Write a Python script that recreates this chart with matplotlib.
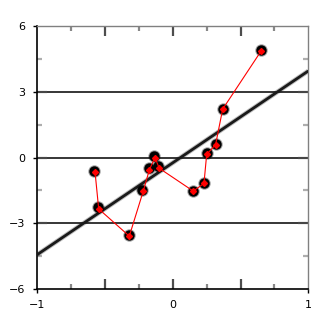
import matplotlib
matplotlib.use("Agg")
import matplotlib.pyplot as plt
import matplotlib.transforms as mtransforms
import numpy as np

# data
x_vals = [-0.574, -0.547, -0.321, -0.218, -0.173, -0.132, -0.100, 0.151, 0.230, 0.250, 0.316, 0.368, 0.653]
y_vals = [-0.65, -2.34, -3.58, -1.53, -0.56, 0.00, -0.49, -1.53, -1.18, 0.14, 0.59, 2.20, 4.86]
shadow_x = [-0.579, -0.555, -0.321, -0.225, -0.173, -0.137, -0.107, 0.149, 0.230, 0.250, 0.316, 0.368, 0.651]
shadow_y = [-0.61, -2.26, -3.55, -1.46, -0.49, 0.06, -0.39, -1.53, -1.18, 0.21, 0.61, 2.19, 4.89]
trend_slope = 4.18
trend_intercept = -0.24
x_ticks = [-1, 0, 1]
y_ticks = [-6, -3, 0, 3, 6]
grid_y = [-3, 0, 3]
inner_x_major = [-0.5, 0, 0.5]
inner_x_minor = [-0.75, -0.25, 0.25, 0.75]
inner_y_major = [-3, 0, 3]
inner_y_minor = [-4.5, -1.5, 1.5, 4.5]

W, H = 329, 333
fig = plt.figure(figsize=(W / 100, H / 100), dpi=100)
ax_w, ax_h = 271.0, 263.6
ax = fig.add_axes([37.3 / W, 43.7 / H, ax_w / W, ax_h / H])
ax.set_xlim(-1, 1)
ax.set_ylim(-6, 6)

for g in grid_y:
    ax.axhline(g, color="black", lw=1.1, zorder=1)

# inner decorative tick marks
tx = mtransforms.blended_transform_factory(ax.transData, ax.transAxes)
ty = mtransforms.blended_transform_factory(ax.transAxes, ax.transData)
lmaj_x, lmin_x = 10 / ax_h, 5 / ax_h
lmaj_y, lmin_y = 10 / ax_w, 5 / ax_w
for v in inner_x_major:
    for a, b in [(0, lmaj_x), (1, 1 - lmaj_x)]:
        ax.plot([v, v], [a, b], transform=tx, color="#3a3a3a", lw=1.6, alpha=0.9, clip_on=False, zorder=1.5, solid_capstyle="butt")
for v in inner_x_minor:
    for a, b in [(0, lmin_x), (1, 1 - lmin_x)]:
        ax.plot([v, v], [a, b], transform=tx, color="#6a6a6a", lw=1.6, alpha=0.8, clip_on=False, zorder=1.5, solid_capstyle="butt")
for v in inner_y_major:
    for a, b in [(0, lmaj_y), (1, 1 - lmaj_y)]:
        ax.plot([a, b], [v, v], transform=ty, color="#4a4a4a", lw=1.6, alpha=0.8, clip_on=False, zorder=1.5, solid_capstyle="butt")
for v in inner_y_minor:
    for a, b in [(0, lmin_y), (1, 1 - lmin_y)]:
        ax.plot([a, b], [v, v], transform=ty, color="#9a9a9a", lw=1.6, alpha=0.8, clip_on=False, zorder=1.5, solid_capstyle="butt")

# trend line
xs = np.array([-1.0, 1.0])
ys = trend_intercept + trend_slope * xs
ax.plot(xs, ys, color="#000000", lw=3.4, alpha=0.25, zorder=2, solid_capstyle="butt")
ax.plot(xs, ys, color="#1a1a1a", lw=2.0, zorder=3, solid_capstyle="butt")

# shadow markers
ax.plot(shadow_x, shadow_y, "o", ms=9.0, color="black", alpha=0.35, mec="none", zorder=4)
ax.plot(shadow_x, shadow_y, "o", ms=7.5, color="black", mec="none", zorder=5)

# red series
ax.plot(x_vals, y_vals, "-", color="red", lw=0.8, marker="D", ms=3.0, mfc="red", mec="red", zorder=6)

ax.set_xticks(x_ticks)
ax.set_yticks(y_ticks)
ax.tick_params(axis="both", direction="out", length=3, width=1, labelsize=8, colors="black")
ax.tick_params(axis="x", pad=5)
ax.tick_params(axis="y", pad=6)
ax.xaxis.get_major_ticks()[1].tick1line.set_visible(False)

for s in ["left", "bottom"]:
    ax.spines[s].set_color("black")
    ax.spines[s].set_linewidth(1.2)
for s in ["top", "right"]:
    ax.spines[s].set_color("#808080")
    ax.spines[s].set_linewidth(1.0)

fig.savefig("out.png", dpi=100)
